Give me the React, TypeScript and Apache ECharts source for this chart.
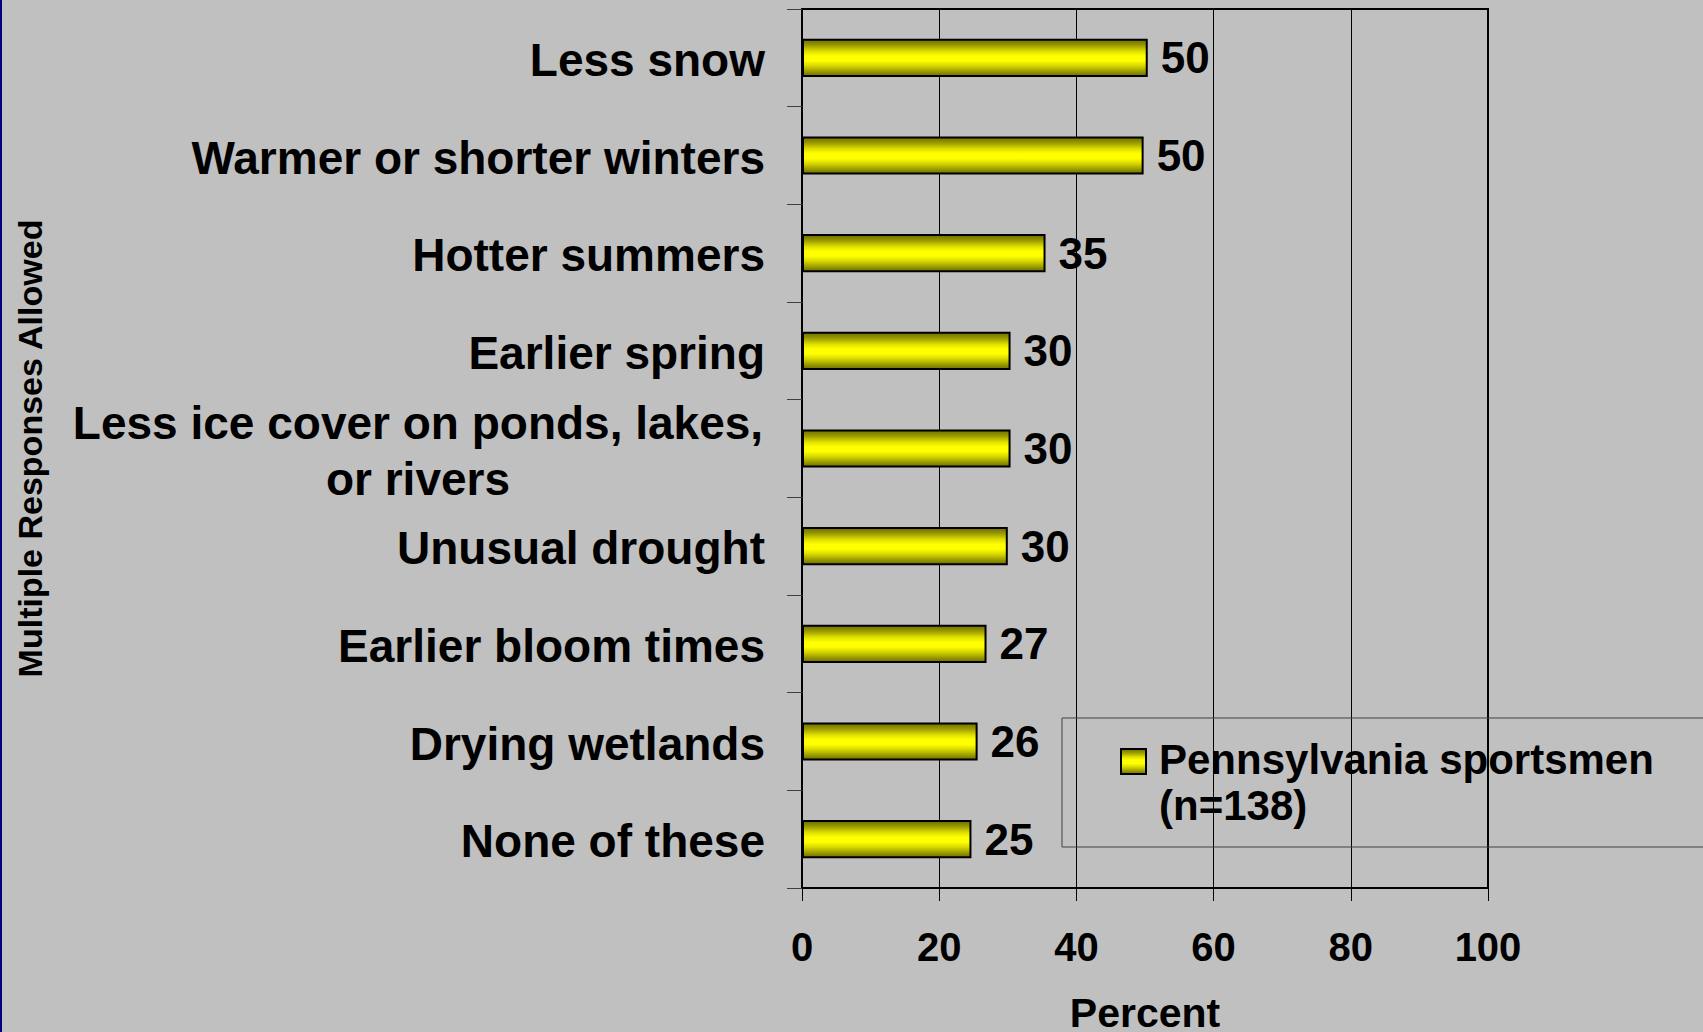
import React, { useEffect, useRef } from "react";
import * as echarts from "echarts";

const categories = [
  "Less snow",
  "Warmer or shorter winters",
  "Hotter summers",
  "Earlier spring",
  "Less ice cover on ponds, lakes,\nor rivers",
  "Unusual drought",
  "Earlier bloom times",
  "Drying wetlands",
  "None of these",
];
const values = [50.4, 49.8, 35.5, 30.4, 30.4, 30.0, 26.9, 25.6, 24.7];
const labels = [50, 50, 35, 30, 30, 30, 27, 26, 25];
const seriesName = "Pennsylvania sportsmen";
const seriesNote = "(n=138)";
const xTicks = [0, 20, 40, 60, 80, 100];

const FONT = "Arial, 'Liberation Sans', Helvetica, sans-serif";

const barGradient = () =>
  new echarts.graphic.LinearGradient(0, 0, 0, 1, [
    { offset: 0, color: "#6e6e00" },
    { offset: 0.15, color: "#9a9a00" },
    { offset: 0.32, color: "#e0e000" },
    { offset: 0.45, color: "#ffff00" },
    { offset: 0.58, color: "#ffff00" },
    { offset: 0.72, color: "#d8d800" },
    { offset: 0.88, color: "#9a9a00" },
    { offset: 1, color: "#6e6e00" },
  ]);

export default function App() {
  const ref = useRef<HTMLDivElement>(null);

  useEffect(() => {
    document.body.style.margin = "0";
    const chart = echarts.init(ref.current!, undefined, { renderer: "svg" });
    const option: any = {
      animation: false,
      backgroundColor: "#c0c0c0",
      grid: {
        left: 802,
        right: 215,
        top: 9,
        bottom: 144,
        outerBoundsMode: "none",
        containLabel: false,
        show: true,
        borderColor: "#000",
        borderWidth: 2,
        backgroundColor: "transparent",
      },
      xAxis: {
        type: "value",
        min: xTicks[0],
        max: xTicks[xTicks.length - 1],
        interval: 20,
        name: "Percent",
        nameLocation: "middle",
        nameGap: 104,
        nameTextStyle: { fontFamily: FONT, fontWeight: "bold", fontSize: 41, color: "#000" },
        axisLine: { show: true, lineStyle: { color: "#000", width: 2 } },
        axisTick: { show: true, length: 13, lineStyle: { color: "#000", width: 1 } },
        axisLabel: {
          fontFamily: FONT,
          fontWeight: "bold",
          fontSize: 40,
          color: "#000",
          margin: 39,
        },
        splitLine: { show: true, lineStyle: { color: "#000", width: 1 } },
      },
      yAxis: {
        type: "category",
        inverse: true,
        data: categories,
        name: "Multiple Responses Allowed",
        nameLocation: "middle",
        nameRotate: 90,
        nameGap: 755,
        nameTextStyle: { fontFamily: FONT, fontWeight: "bold", fontSize: 34, color: "#000" },
        axisLine: { show: true, lineStyle: { color: "#000", width: 2 } },
        axisTick: { show: true, length: 15, lineStyle: { color: "#404040", width: 1 } },
        axisLabel: {
          fontFamily: FONT,
          fontWeight: "bold",
          fontSize: 46,
          color: "#000",
          margin: 37,
          align: "right",
          padding: [4, 0, 0, 0],
          formatter: (v: string) => {
            if (v.indexOf("\n") >= 0) {
              return v
                .split("\n")
                .map((s) => "{c|" + s + "}")
                .join("\n");
            }
            return v;
          },
          rich: {
            c: {
              fontFamily: FONT,
              fontWeight: "bold",
              fontSize: 46,
              color: "#000",
              width: 694,
              align: "center",
              lineHeight: 56,
            },
          },
        },
        splitLine: { show: false },
      },
      series: [
        {
          type: "bar",
          name: seriesName,
          data: values,
          barCategoryGap: "61%",
          itemStyle: { color: barGradient(), borderColor: "#000", borderWidth: 2 },
          label: {
            show: true,
            position: "right",
            distance: 13,
            fontFamily: FONT,
            fontWeight: "bold",
            fontSize: 44,
            color: "#000",
            padding: [9, 0, 0, 0],
            formatter: (p: any) => String(labels[p.dataIndex]),
          },
        },
      ],
      graphic: [
        {
          type: "rect",
          shape: { x: 1062, y: 718, width: 700, height: 129 },
          style: { fill: "transparent", stroke: "#404040", lineWidth: 1 },
          z: 10,
        },
        {
          type: "rect",
          shape: { x: 1121, y: 749, width: 25, height: 25 },
          style: { fill: barGradient(), stroke: "#000", lineWidth: 2 },
          z: 11,
        },
        {
          type: "text",
          x: 1159,
          y: 736,
          style: {
            text: seriesName + "\n" + seriesNote,
            fontFamily: FONT,
            fontWeight: "bold",
            fontSize: 42,
            lineHeight: 46,
            fill: "#000",
            align: "left",
            verticalAlign: "top",
          },
          z: 11,
        },
      ],
    };
    chart.setOption(option);
    return () => chart.dispose();
  }, []);

  return (
    <div
      style={{
        position: "fixed",
        left: 0,
        top: 0,
        width: 1703,
        height: 1032,
        background: "#c0c0c0",
        overflow: "hidden",
      }}
    >
      <div
        style={{
          position: "absolute",
          left: 0,
          top: 0,
          width: 2,
          height: 1032,
          background: "#000080",
          zIndex: 2,
        }}
      />
      <div ref={ref} style={{ width: 1703, height: 1032 }} />
    </div>
  );
}
